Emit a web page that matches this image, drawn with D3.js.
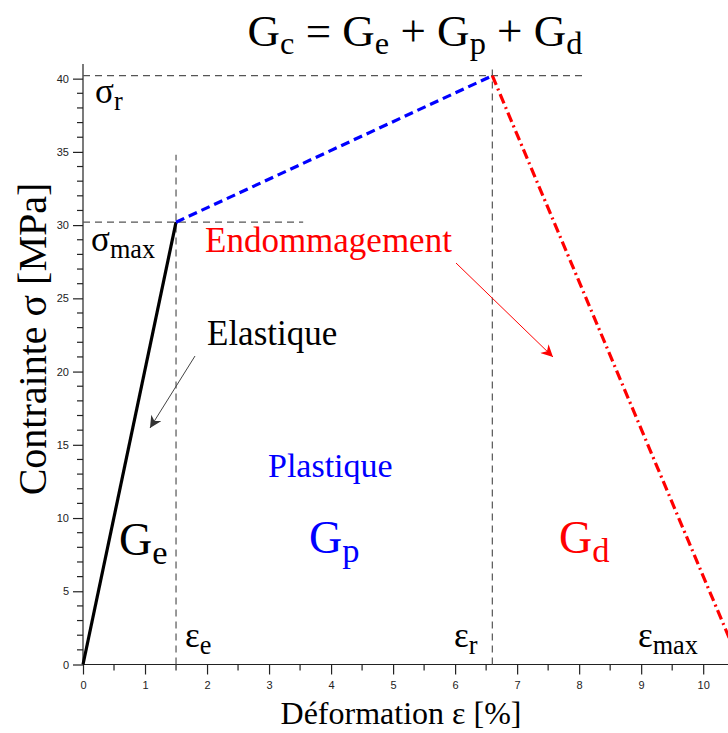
<!DOCTYPE html>
<html><head><meta charset="utf-8">
<script src="https://cdn.jsdelivr.net/npm/d3@7"></script>
<style>
html,body{margin:0;padding:0;background:#fff;}
svg{display:block;}
text{font-family:"Liberation Serif","Times New Roman",serif;}
.tick text{font-family:"Liberation Sans",Arial,sans-serif;}
</style></head>
<body>
<script>
// ---- data ----
const strain = [0, 1.5, 6.6, 10.6];      // ε points [%]
const stress = [0, 30.2, 40.2, 0];       // σ points [MPa]
const segmentNames = ["elastique", "plastique", "endommagement"];
const segmentColors = ["#000000", "#0000ff", "#ff0000"];
const xTicks = [0,1,2,3,4,5,6,7,8,9,10];
const yTicks = [0,5,10,15,20,25,30,35,40];
const epsE = 1.5, epsR = 6.6, sigMax = 30.2, sigR = 40.2;

const W = 728, H = 733;
const svg = d3.select("body").append("svg").attr("width", W).attr("height", H);

const x = d3.scaleLinear().domain([0, 10.4]).range([83, 728]);
const y = d3.scaleLinear().domain([0, 41]).range([664.5, 64]);

// defs: arrowheads
const defs = svg.append("defs");
function marker(id, color){
  defs.append("marker").attr("id", id).attr("viewBox","0 0 10 10")
    .attr("refX", 10).attr("refY", 5).attr("markerWidth", 14).attr("markerHeight", 12)
    .attr("markerUnits","userSpaceOnUse").attr("orient","auto")
    .append("path").attr("d","M0,0 L10,5 L0,10 L3,5 Z").attr("fill", color);
}
marker("arrBlack", "#333");
marker("arrRed", "#ff0000");

// axes
const xAxis = d3.axisBottom(x).tickValues(xTicks).tickSize(10).tickPadding(7).tickFormat(d3.format("d"));
const yAxis = d3.axisLeft(y).tickValues(yTicks).tickSize(10).tickPadding(4).tickFormat(d3.format("d"));
const gx = svg.append("g").attr("transform", `translate(0,${y(0)})`).call(xAxis);
const gy = svg.append("g").attr("transform", `translate(${x(0)},0)`).call(yAxis);
[gx, gy].forEach(g => {
  g.select(".domain").attr("stroke", "#222").attr("stroke-width", 1.2);
  g.selectAll(".tick line").attr("stroke", "#222").attr("stroke-width", 1.2);
  g.selectAll(".tick text").attr("font-size", 11).attr("fill", "#222");
});
gx.select(".domain").attr("d", `M${x(0)},0H${W}`);
gy.select(".domain").attr("d", `M0,${y(0)}V${y(41)}`);
// minor ticks
const xMinor = d3.range(0.5, 10.5, 1);
gx.selectAll(".minor").data(xMinor).enter().append("line")
  .attr("x1", d => x(d)).attr("x2", d => x(d)).attr("y1", 0).attr("y2", 6)
  .attr("stroke", "#222").attr("stroke-width", 1.2);
const yMinor = d3.range(1, 41, 1).filter(v => v % 5 !== 0);
gy.selectAll(".minor").data(yMinor).enter().append("line")
  .attr("y1", d => y(d)).attr("y2", d => y(d)).attr("x1", 0).attr("x2", -6)
  .attr("stroke", "#222").attr("stroke-width", 1.2);

// guide dashed lines
const guide = svg.append("g").attr("stroke", "#555").attr("stroke-width", 1.2).attr("stroke-dasharray", "7,5").attr("fill","none");
guide.append("line").attr("x1", x(epsE)).attr("x2", x(epsE)).attr("y1", y(0)).attr("y2", y(34.8));
guide.append("line").attr("x1", x(epsR)).attr("x2", x(epsR)).attr("y1", y(0)).attr("y2", y(40.8));
guide.append("line").attr("x1", x(0)).attr("x2", x(3.55)).attr("y1", y(sigMax)).attr("y2", y(sigMax));
guide.append("line").attr("x1", x(0)).attr("x2", x(8.1)).attr("y1", y(sigR)).attr("y2", y(sigR));

// curve segments
const dashes = [null, "9,5", "10,4,2,4"];
for (let i = 0; i < 3; i++) {
  svg.append("path")
    .datum([[strain[i], stress[i]], [strain[i+1], stress[i+1]]])
    .attr("d", d3.line().x(d => x(d[0])).y(d => y(d[1])))
    .attr("fill", "none").attr("stroke", segmentColors[i]).attr("stroke-width", 3.2)
    .attr("stroke-dasharray", dashes[i]);
}

// text helper with subscript (pieces: [main, sub] pairs), relative dy shifts
function label(px, py, pieces, size, color, anchor="start", subScale=0.75, subDy=0.2) {
  const t = svg.append("text").attr("x", px).attr("y", py).attr("font-size", size)
    .attr("fill", color).attr("text-anchor", anchor);
  let cur = 0;
  const shift = Math.round(size*subDy);
  pieces.forEach(([m, s]) => {
    t.append("tspan").attr("dy", -cur).text(m);
    cur = 0;
    if (s) { t.append("tspan").attr("dy", shift).attr("font-size", size*subScale).text(s); cur = shift; }
  });
  return t;
}

// title
label(415, 46, [["G","c"],[" = G","e"],[" + G","p"],[" + G","d"]], 45, "#000", "middle", 0.72, 0.18);

label(95, 103, [["σ","r"]], 35, "#000");
label(91, 251, [["σ","max"]], 35, "#000");
label(205, 252, [["Endommagement"]], 35, "#ff0000");
label(207, 345, [["Elastique"]], 35, "#000");
label(268, 477, [["Plastique"]], 34, "#0000ff");
label(119, 555, [["G","e"]], 46, "#000");
label(309, 553, [["G","p"]], 46, "#0000ff");
label(559, 553, [["G","d"]], 46, "#ff0000");
label(185, 647, [["ε","e"]], 35, "#000");
label(454, 647, [["ε","r"]], 35, "#000");
label(638, 647, [["ε","max"]], 35, "#000");

// arrows
svg.append("line").attr("x1", 195).attr("y1", 356).attr("x2", 150).attr("y2", 428)
  .attr("stroke", "#444").attr("stroke-width", 1).attr("marker-end", "url(#arrBlack)");
svg.append("line").attr("x1", 456).attr("y1", 263).attr("x2", 553).attr("y2", 357)
  .attr("stroke", "#ff0000").attr("stroke-width", 1).attr("marker-end", "url(#arrRed)");

// axis titles
svg.append("text").attr("x", 401).attr("y", 724).attr("text-anchor","middle").attr("font-size", 32).text("Déformation ε [%]");
svg.append("text").attr("transform", "translate(46,339) rotate(-90)").attr("text-anchor","middle").attr("font-size", 40).text("Contrainte σ [MPa]");
</script>
</body></html>
